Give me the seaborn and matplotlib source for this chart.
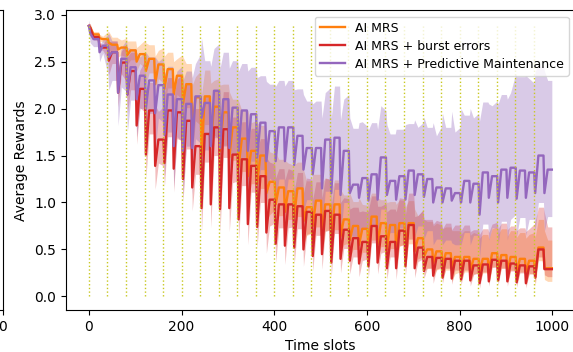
import numpy as np
import pandas as pd
import matplotlib
matplotlib.use("Agg")
import matplotlib.pyplot as plt
import seaborn as sns

# ---------------- data ----------------
series_names = ["AI MRS", "AI MRS + burst errors", "AI MRS + Predictive Maintenance"]
series_colors = ["#ff7f0e", "#d62728", "#9467bd"]

# one sawtooth "tooth" every 20 slots: level reached before the drop, value at the bottom
mrs_peak = [2.88, 2.79, 2.74, 2.68, 2.65, 2.62, 2.58, 2.53, 2.47, 2.42,
            2.35, 2.26, 2.12, 2.13, 2.02, 1.96, 1.80, 1.68, 1.55, 1.50,
            1.22, 1.16, 1.12, 1.15, 0.95, 1.02, 0.98, 0.98, 0.82, 0.75,
            0.72, 0.85, 0.78, 0.76, 0.78, 0.78, 0.62, 0.50, 0.48, 0.46,
            0.42, 0.42, 0.40, 0.40, 0.46, 0.44, 0.42, 0.40, 0.38, 0.52]
mrs_dip = [2.86, 2.75, 2.70, 2.63, 2.57, 2.50, 2.40, 2.26, 2.21, 2.15,
           2.05, 1.75, 1.50, 1.62, 1.55, 1.48, 1.38, 1.28, 1.20, 1.10,
           0.98, 0.90, 0.85, 0.80, 0.75, 0.66, 0.62, 0.64, 0.60, 0.55,
           0.52, 0.55, 0.50, 0.48, 0.50, 0.48, 0.42, 0.35, 0.32, 0.30,
           0.28, 0.27, 0.26, 0.25, 0.28, 0.26, 0.25, 0.24, 0.23, 0.30]
mrs_end = 0.30

burst_peak = [2.88, 2.76, 2.65, 2.60, 2.49, 2.40, 2.21, 1.98, 1.67, 1.98,
              1.96, 1.87, 1.60, 1.73, 1.80, 1.78, 1.51, 1.46, 1.39, 1.28,
              1.03, 0.98, 0.98, 0.96, 0.90, 0.87, 0.91, 0.87, 0.71, 0.62,
              0.58, 0.75, 0.64, 0.58, 0.70, 0.76, 0.52, 0.42, 0.41, 0.40,
              0.38, 0.38, 0.33, 0.34, 0.39, 0.38, 0.35, 0.33, 0.32, 0.50]
burst_dip = [2.86, 2.66, 2.51, 2.17, 2.15, 1.82, 1.51, 1.39, 1.42, 1.36,
             1.25, 1.16, 0.94, 0.98, 0.93, 0.94, 0.82, 0.77, 0.74, 0.68,
             0.56, 0.54, 0.52, 0.50, 0.43, 0.45, 0.36, 0.40, 0.38, 0.35,
             0.32, 0.36, 0.30, 0.30, 0.32, 0.30, 0.27, 0.22, 0.20, 0.19,
             0.18, 0.17, 0.14, 0.16, 0.17, 0.16, 0.15, 0.14, 0.20, 0.29]
burst_end = 0.29

pm_peak = [2.88, 2.74, 2.67, 2.60, 2.53, 2.44, 2.35, 2.30, 2.25, 2.15,
           2.10, 2.05, 2.13, 2.06, 2.19, 2.10, 2.01, 1.98, 1.94, 1.85,
           1.76, 1.80, 1.80, 1.71, 1.58, 1.58, 1.67, 1.69, 1.55, 1.19,
           1.26, 1.30, 1.48, 1.23, 1.28, 1.34, 1.30, 1.25, 1.16, 1.15,
           1.10, 1.23, 1.20, 1.32, 1.28, 1.35, 1.37, 1.34, 1.32, 1.50]
pm_dip = [2.80, 2.60, 2.55, 2.17, 2.15, 2.10, 2.00, 1.95, 1.72, 1.60,
          1.55, 1.58, 1.90, 1.60, 1.58, 1.58, 1.55, 1.55, 1.48, 1.44,
          1.44, 1.44, 1.40, 1.35, 1.30, 1.15, 1.10, 1.08, 1.10, 1.05,
          1.02, 1.03, 1.08, 1.03, 1.03, 1.08, 1.06, 1.00, 1.00, 1.02,
          1.00, 1.00, 0.87, 1.05, 1.00, 1.05, 1.04, 1.05, 1.10, 1.10]
pm_end = 1.35

# shaded band: spread above / below the mean, one value per 40-slot interval,
# separately for the level parts and for the bottoms of the drops
mrs_up = [0.03, 0.08, 0.10, 0.15, 0.18, 0.22, 0.28, 0.30, 0.30, 0.32, 0.30, 0.28, 0.28,
          0.26, 0.26, 0.25, 0.25, 0.24, 0.30, 0.28, 0.28, 0.26, 0.28, 0.28, 0.30]
mrs_dn = [0.03, 0.08, 0.10, 0.15, 0.20, 0.25, 0.30, 0.35, 0.35, 0.35, 0.30, 0.30, 0.28,
          0.27, 0.25, 0.25, 0.25, 0.22, 0.20, 0.18, 0.16, 0.15, 0.14, 0.14, 0.14]
mrs_up_dip = [0.04, 0.12, 0.15, 0.30, 0.35, 0.50, 0.65, 0.70, 0.70, 0.65, 0.55, 0.55, 0.55,
              0.50, 0.50, 0.50, 0.50, 0.45, 0.40, 0.40, 0.38, 0.36, 0.38, 0.38, 0.40]
mrs_dn_dip = [0.03, 0.08, 0.10, 0.15, 0.20, 0.25, 0.30, 0.35, 0.35, 0.30, 0.25, 0.25, 0.22,
              0.20, 0.20, 0.20, 0.20, 0.18, 0.15, 0.14, 0.12, 0.12, 0.12, 0.12, 0.12]

burst_up = [0.03, 0.12, 0.20, 0.30, 0.35, 0.40, 0.40, 0.40, 0.40, 0.40, 0.38, 0.36, 0.35,
            0.34, 0.33, 0.32, 0.35, 0.34, 0.40, 0.38, 0.38, 0.38, 0.40, 0.40, 0.45]
burst_dn = [0.03, 0.12, 0.20, 0.25, 0.28, 0.30, 0.30, 0.30, 0.28, 0.28, 0.25, 0.24, 0.22,
            0.20, 0.20, 0.18, 0.16, 0.15, 0.12, 0.10, 0.10, 0.08, 0.08, 0.08, 0.08]
burst_up_dip = [0.04, 0.20, 0.40, 0.65, 0.75, 0.80, 0.85, 0.85, 0.85, 0.80, 0.70, 0.60, 0.60,
                0.60, 0.55, 0.60, 0.60, 0.55, 0.55, 0.52, 0.52, 0.52, 0.55, 0.55, 0.60]
burst_dn_dip = [0.03, 0.15, 0.20, 0.25, 0.25, 0.25, 0.25, 0.25, 0.22, 0.22, 0.20, 0.18, 0.16,
                0.15, 0.14, 0.12, 0.12, 0.10, 0.08, 0.06, 0.06, 0.05, 0.05, 0.05, 0.06]

pm_up = [0.06, 0.12, 0.20, 0.25, 0.30, 0.35, 0.45, 0.50, 0.50, 0.50, 0.50, 0.50, 0.50,
         0.55, 0.60, 0.55, 0.50, 0.50, 0.55, 0.65, 0.70, 0.75, 0.80, 1.00, 0.95]
pm_dn = [0.08, 0.30, 0.35, 0.35, 0.40, 0.45, 0.50, 0.50, 0.50, 0.50, 0.55, 0.55, 0.55,
         0.55, 0.55, 0.55, 0.55, 0.55, 0.55, 0.55, 0.55, 0.55, 0.55, 0.50, 0.50]
pm_up_dip = [0.08, 0.25, 0.50, 0.60, 0.65, 0.75, 0.85, 0.85, 0.85, 0.85, 0.80, 0.80, 0.75,
             0.80, 0.80, 0.75, 0.75, 0.80, 0.85, 0.95, 1.00, 1.00, 1.05, 1.30, 1.30]
pm_dn_dip = [0.10, 0.35, 0.40, 0.40, 0.45, 0.50, 0.50, 0.50, 0.45, 0.45, 0.45, 0.45, 0.45,
             0.45, 0.45, 0.45, 0.45, 0.45, 0.45, 0.45, 0.45, 0.45, 0.45, 0.40, 0.40]

tooth_slots = list(range(0, 1000, 20))          # start of each tooth
maintenance_slots = list(range(0, 1000, 40))    # dotted markers
last_slot = 999
marker_top = 2.9

# ---------------- build long table ----------------
def build(peak, dip, end, up, dn, up_d, dn_d):
    """drop at each tooth, recovery to the next level, hold until the next drop"""
    xs, ys, his, los = [], [], [], []
    n = len(tooth_slots)

    def add(x, y, u, d):
        xs.append(x); ys.append(y); his.append(y + u); los.append(max(y - d, 0.0))

    for k, s in enumerate(tooth_slots):
        m = k // 2
        nxt = peak[k + 1] if k + 1 < n else end
        add(s + 1 if k else s, peak[k], up[m], dn[m])
        add(s + 3, dip[k], up_d[m], dn_d[m])
        add(s + 10, nxt, up[m], dn[m])
    add(last_slot, end, up[-1], dn[-1])
    return xs, ys, his, los

tables = []
bands = {}
for name, args in [
        (series_names[0], (mrs_peak, mrs_dip, mrs_end, mrs_up, mrs_dn, mrs_up_dip, mrs_dn_dip)),
        (series_names[1], (burst_peak, burst_dip, burst_end, burst_up, burst_dn, burst_up_dip, burst_dn_dip)),
        (series_names[2], (pm_peak, pm_dip, pm_end, pm_up, pm_dn, pm_up_dip, pm_dn_dip))]:
    xs, ys, his, los = build(*args)
    tables.append(pd.DataFrame({"Time slots": xs, "Average Rewards": ys, "series": name}))
    bands[name] = (xs, los, his)
df = pd.concat(tables, ignore_index=True)

# ---------------- figure ----------------
plt.rcParams["font.family"] = ["DejaVu Sans"]
plt.rcParams["font.size"] = 10
fig = plt.figure(figsize=(5.73, 3.52), dpi=100)

# fragment of the neighbouring panel (cropped at the left edge)
ax0 = fig.add_axes([-0.5, 0.1193, 0.5052, 0.851])
ax0.set_xlim(0, 1); ax0.set_ylim(0, 1)
ax0.set_xticks([1]); ax0.set_xticklabels(["0"])
ax0.set_yticks([])

ax = fig.add_axes([0.1147, 0.1193, 0.8888, 0.851])
for name, col in zip(series_names, series_colors):
    xs, los, his = bands[name]
    ax.fill_between(xs, los, his, color=col, alpha=0.35 if col == "#9467bd" else 0.3,
                    linewidth=0, zorder=1)

sns.lineplot(data=df, x="Time slots", y="Average Rewards", hue="series",
             hue_order=series_names, palette=series_colors, linewidth=1.7,
             ax=ax, zorder=2)

ax.vlines(maintenance_slots, 0, marker_top, colors="#c8c820", linestyles=":",
          linewidth=1.0, zorder=3)

ax.set_xticks([0, 200, 400, 600, 800, 1000])
ax.set_yticks([0.0, 0.5, 1.0, 1.5, 2.0, 2.5, 3.0])
ax.set_xlim(-50, 1049)
ax.set_ylim(-0.145, 3.045)
ax.set_xlabel("Time slots")
ax.set_ylabel("Average Rewards")
leg = ax.legend(loc="upper right", fontsize=9, labelspacing=0.4)
leg.set_title(None)

fig.savefig("out.png", dpi=100)
